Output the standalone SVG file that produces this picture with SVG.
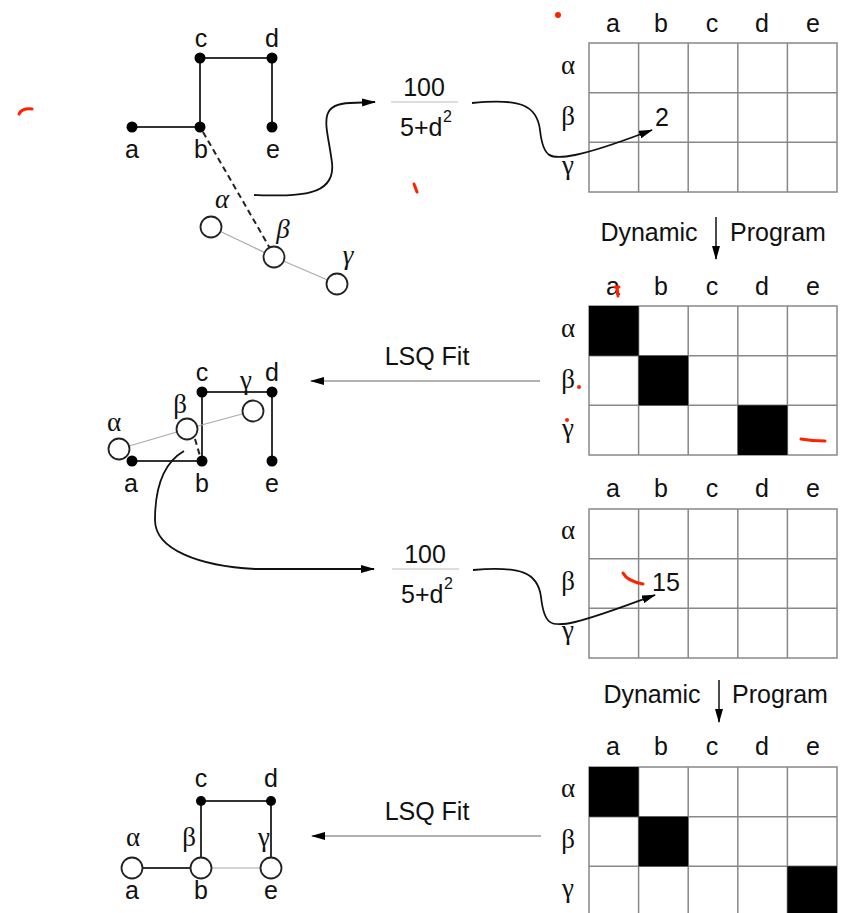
<svg xmlns="http://www.w3.org/2000/svg" width="841" height="913" viewBox="0 0 841 913">
  <defs>
    <style>
      .lbl { font-family: "Liberation Sans", Arial, sans-serif; font-size: 25px; fill: #111; text-anchor: middle; }
      .lbl-s { font-family: "Liberation Sans", Arial, sans-serif; font-size: 25px; fill: #111; }
      .sup { font-family: "Liberation Sans", Arial, sans-serif; font-size: 16px; fill: #111; }
      .gk { font-family: "Liberation Serif", "Times New Roman", serif; font-size: 27px; fill: #111; text-anchor: middle; }
      .gki { font-family: "Liberation Serif", "Times New Roman", serif; font-size: 27px; font-style: italic; fill: #111; text-anchor: middle; }
      .edge { stroke: #333; stroke-width: 2; fill: none; }
      .thin { stroke: #aaa; stroke-width: 1.2; fill: none; }
      .dash { stroke: #222; stroke-width: 2; stroke-dasharray: 6 4; fill: none; }
      .dot { fill: #000; }
      .ring { fill: #fff; stroke: #222; stroke-width: 1.8; }
      .grid { stroke: #888; stroke-width: 1.5; fill: none; }
      .cell { fill: #000; }
      .curve { stroke: #111; stroke-width: 1.8; fill: none; marker-end: url(#head); }
      .fit { stroke: #999; stroke-width: 1.5; fill: none; marker-end: url(#head); }
      .dp { stroke: #111; stroke-width: 1.5; fill: none; marker-end: url(#head); }
      .frac { stroke: #bbb; stroke-width: 1.2; }
      .ink { stroke: #ff2200; stroke-width: 3; stroke-linecap: round; fill: none; }
    </style>
    <marker id="head" markerWidth="14" markerHeight="8" refX="13" refY="4" orient="auto" markerUnits="userSpaceOnUse">
      <path d="M0,0 L14,4 L0,8 z" fill="#000"/>
    </marker>
    <!-- 5x3 assignment table: columns a..e, rows alpha..gamma -->
    <g id="table">
      <rect x="589" y="0" width="248" height="149" class="grid"/>
      <path class="grid" d="M638.6,0 V149 M688.2,0 V149 M737.8,0 V149 M787.4,0 V149 M589,49.7 H837 M589,99.3 H837"/>
    </g>
    <g id="heads">
      <text class="lbl" x="613" y="0">a</text>
      <text class="lbl" x="661" y="0">b</text>
      <text class="lbl" x="712" y="0">c</text>
      <text class="lbl" x="762" y="0">d</text>
      <text class="lbl" x="813" y="0">e</text>
      <text class="gk" x="568" y="42">α</text>
      <text class="gk" x="568" y="93">β</text>
      <text class="gk" x="568" y="142">γ</text>
    </g>
  </defs>

  <!-- model graph, initial placement -->
  <g id="graph1">
    <path class="edge" d="M132,127 H200 V58 H272 V127"/>
    <path class="thin" d="M211,227 L274,257 L337,284"/>
    <path class="dash" d="M203,132 L271,250"/>
    <circle class="dot" cx="132" cy="127" r="5.5"/>
    <circle class="dot" cx="200" cy="127" r="5.5"/>
    <circle class="dot" cx="200" cy="58" r="5.5"/>
    <circle class="dot" cx="272" cy="58" r="5.5"/>
    <circle class="dot" cx="272" cy="127" r="5.5"/>
    <circle class="ring" cx="211" cy="227" r="10.5"/>
    <circle class="ring" cx="274" cy="257" r="10.5"/>
    <circle class="ring" cx="337" cy="284" r="10.5"/>
    <text class="lbl" x="201" y="47">c</text>
    <text class="lbl" x="272" y="47">d</text>
    <text class="lbl" x="132" y="158">a</text>
    <text class="lbl" x="201" y="158">b</text>
    <text class="lbl" x="273" y="158">e</text>
    <text class="gki" x="222" y="208">α</text>
    <text class="gki" x="283" y="238">β</text>
    <text class="gki" x="348" y="264">γ</text>
  </g>

  <!-- similarity formula 1 -->
  <g id="formula1">
    <text class="lbl" x="424" y="96">100</text>
    <line class="frac" x1="391" y1="102" x2="458" y2="102"/>
    <text class="lbl-s" x="400" y="136">5+d</text>
    <text class="sup" x="443" y="122">2</text>
  </g>

  <!-- table 1 -->
  <g id="table1">
    <use href="#table" y="43"/>
    <use href="#heads" y="32"/>
    <text class="lbl-s" x="655" y="126">2</text>
  </g>

  <g id="dp1">
    <text class="lbl" x="649" y="241">Dynamic</text>
    <text class="lbl-s" x="730" y="241">Program</text>
  </g>

  <!-- table 2 -->
  <g id="table2">
    <use href="#table" y="306"/>
    <use href="#heads" y="295"/>
    <rect class="cell" x="589" y="306" width="49.6" height="49.7"/>
    <rect class="cell" x="638.6" y="355.7" width="49.6" height="49.6"/>
    <rect class="cell" x="737.8" y="405.3" width="49.6" height="49.7"/>
  </g>

  <g id="fit1">
    <text class="lbl" x="427" y="365">LSQ Fit</text>
  </g>

  <!-- model graph after first fit -->
  <g id="graph2">
    <path class="edge" d="M132,461 H202 V392 H272 V461"/>
    <path class="thin" d="M119,449 L187,429 L253,411"/>
    <path class="dash" d="M195,439 L200,456"/>
    <circle class="dot" cx="132" cy="461" r="5.5"/>
    <circle class="dot" cx="202" cy="461" r="5.5"/>
    <circle class="dot" cx="202" cy="392" r="5.5"/>
    <circle class="dot" cx="272" cy="392" r="5.5"/>
    <circle class="dot" cx="272" cy="461" r="5.5"/>
    <circle class="ring" cx="119" cy="449" r="10.5"/>
    <circle class="ring" cx="187" cy="429" r="10.5"/>
    <circle class="ring" cx="253" cy="411" r="10.5"/>
    <text class="lbl" x="202" y="381">c</text>
    <text class="lbl" x="272" y="381">d</text>
    <text class="lbl" x="131" y="492">a</text>
    <text class="lbl" x="202" y="492">b</text>
    <text class="lbl" x="272" y="492">e</text>
    <text class="gk" x="114" y="431">α</text>
    <text class="gk" x="180" y="413">β</text>
    <text class="gk" x="246" y="389">γ</text>
  </g>

  <!-- similarity formula 2 -->
  <g id="formula2">
    <text class="lbl" x="425" y="563">100</text>
    <line class="frac" x1="392" y1="569" x2="459" y2="569"/>
    <text class="lbl-s" x="401" y="603">5+d</text>
    <text class="sup" x="444" y="589">2</text>
  </g>

  <!-- table 3 -->
  <g id="table3">
    <use href="#table" y="509"/>
    <use href="#heads" y="497"/>
    <text class="lbl-s" x="652" y="591">15</text>
  </g>

  <g id="dp2">
    <text class="lbl" x="652" y="703">Dynamic</text>
    <text class="lbl-s" x="732" y="703">Program</text>
  </g>

  <!-- table 4 -->
  <g id="table4">
    <use href="#table" y="767"/>
    <use href="#heads" y="755"/>
    <rect class="cell" x="589" y="767" width="49.6" height="49.7"/>
    <rect class="cell" x="638.6" y="816.7" width="49.6" height="49.6"/>
    <rect class="cell" x="787.4" y="866.3" width="49.6" height="49.7"/>
  </g>

  <g id="fit2">
    <text class="lbl" x="427" y="820">LSQ Fit</text>
  </g>

  <!-- final fitted graph -->
  <g id="graph3">
    <path class="edge" d="M132,868 H201 M201,858 V801 H271 V858"/>
    <path class="thin" d="M201,868 H271"/>
    <circle class="dot" cx="201" cy="801" r="5"/>
    <circle class="dot" cx="271" cy="801" r="5"/>
    <circle class="ring" cx="132" cy="868" r="10.5"/>
    <circle class="ring" cx="201" cy="868" r="10.5"/>
    <circle class="ring" cx="271" cy="868" r="10.5"/>
    <text class="lbl" x="201" y="787">c</text>
    <text class="lbl" x="271" y="787">d</text>
    <text class="lbl" x="132" y="899">a</text>
    <text class="lbl" x="201" y="899">b</text>
    <text class="lbl" x="271" y="899">e</text>
    <text class="gk" x="133" y="846">α</text>
    <text class="gk" x="189" y="846">β</text>
    <text class="gk" x="264" y="846">γ</text>
  </g>

  <!-- connectors -->
  <g id="connectors">
    <path class="curve" d="M254,195 C295,196 336,198 332,163 C328,128 315,104 350,103 L375,102"/>
    <path class="curve" d="M472,103 C520,98 537,105 540,130 C543,158 550,160 575,155 C600,150 628,139 652,130"/>
    <path class="dp" d="M716,217 V259"/>
    <path class="fit" d="M540,381 H311"/>
    <path class="curve" d="M184,451 C165,462 155,485 155,520 C155,550 200,566 255,569 L374,569"/>
    <path class="curve" d="M473,570 C520,566 538,572 541,597 C544,624 550,628 575,622 C600,616 630,604 655,595"/>
    <path class="dp" d="M719,680 V722"/>
    <path class="fit" d="M541,836 H312"/>
  </g>

  <!-- stray pen marks -->
  <g id="marks">
    <path class="ink" d="M19,114 Q22,108 32,109"/>
    <circle cx="558" cy="15" r="3" fill="#ff2200"/>
    <path class="ink" d="M414,184 L417,192"/>
    <path class="ink" d="M615,287 L619,287 M617,287 L618,296"/>
    <circle cx="579" cy="387" r="2" fill="#ff2200"/>
    <circle cx="567" cy="420" r="2" fill="#ff2200"/>
    <path class="ink" d="M801,439 Q812,441 825,441"/>
    <path class="ink" d="M623,573 Q627,581 643,584"/>
  </g>
</svg>
